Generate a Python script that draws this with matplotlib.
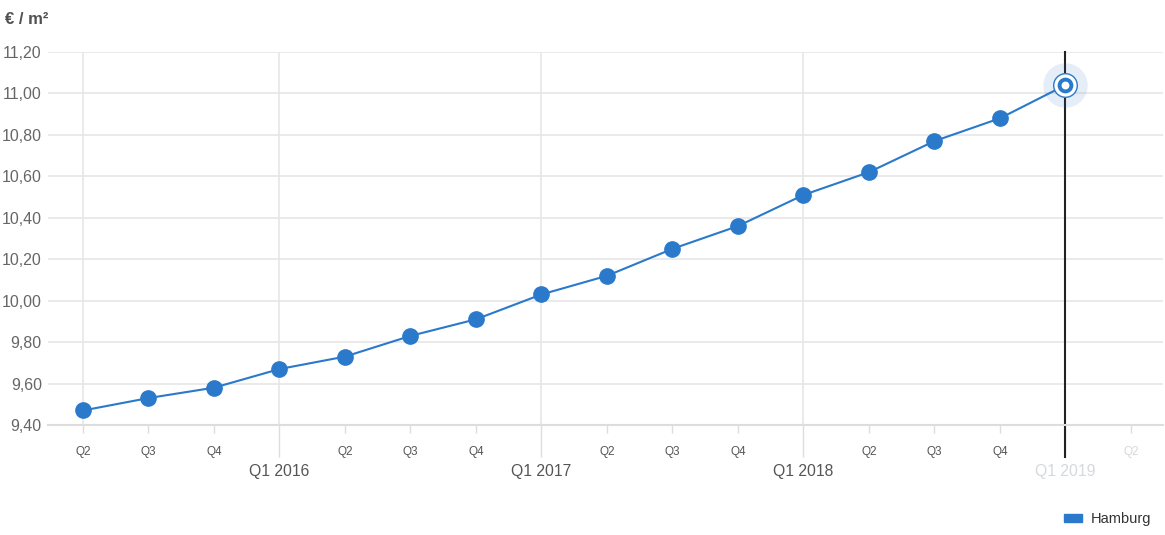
import matplotlib
matplotlib.use("Agg")
import matplotlib.pyplot as plt
from matplotlib.patches import Patch

plt.rcParams['font.family'] = ['Liberation Sans', 'DejaVu Sans']

# Data
quarters = ["Q2 2015", "Q3 2015", "Q4 2015", "Q1 2016", "Q2 2016", "Q3 2016", "Q4 2016",
            "Q1 2017", "Q2 2017", "Q3 2017", "Q4 2017", "Q1 2018", "Q2 2018", "Q3 2018",
            "Q4 2018", "Q1 2019"]
values = [9.47, 9.53, 9.58, 9.67, 9.73, 9.83, 9.91, 10.03, 10.12, 10.25, 10.36,
          10.51, 10.62, 10.77, 10.88, 11.04]
minor_labels = ["Q2", "Q3", "Q4", "Q2", "Q3", "Q4", "Q2", "Q3", "Q4", "Q2", "Q3", "Q4", "Q2"]
minor_pos = [0, 1, 2, 4, 5, 6, 8, 9, 10, 12, 13, 14, 16]
major_labels = ["Q1 2016", "Q1 2017", "Q1 2018", "Q1 2019"]
major_pos = [3, 7, 11, 15]
yticks = [9.4, 9.6, 9.8, 10.0, 10.2, 10.4, 10.6, 10.8, 11.0, 11.2]
series_name = "Hamburg"

blue = "#2a79cb"
grid_c = "#e6e6e6"

fig = plt.figure(figsize=(11.65, 5.35), dpi=100)
ax = fig.add_axes([48/1165, 1-425/535, (1163-48)/1165, (425-52)/535])

x = list(range(len(values)))
ax.plot(x, values, color=blue, lw=1.5, zorder=3)
ax.plot(x[:-1], values[:-1], 'o', color=blue, ms=11, zorder=4)
# highlighted last point
ax.plot(x[-1], values[-1], 'o', ms=32, color="#2a79cb", alpha=0.12, mec="none", zorder=5)
ax.plot(x[-1], values[-1], 'o', ms=17, mfc="white", mec=blue, mew=1.0, zorder=6)
ax.plot(x[-1], values[-1], 'o', ms=8.5, mfc="white", mec=blue, mew=2.8, zorder=7)

ax.set_xlim(-0.534, 16.49)
ax.set_ylim(9.4, 11.2)

# y axis
ax.set_yticks(yticks)
ax.set_yticklabels([f"{v:.2f}".replace(".", ",") for v in yticks])
ax.tick_params(axis="y", length=0, pad=4.5, labelsize=11.5, labelcolor="#666666")
for v in yticks:
    ax.axhline(v, color=grid_c, lw=1.2, zorder=0)

# x axis
ax.set_xticks(major_pos)
ax.set_xticklabels(major_labels)
ax.set_xticks(minor_pos, minor=True)
ax.set_xticklabels(minor_labels, minor=True)
ax.tick_params(axis="x", which="major", length=23, width=1, color="#dddddd",
               pad=5, labelsize=11.3, labelcolor="#555555")
ax.tick_params(axis="x", which="minor", length=6, width=1, color="#dddddd",
               pad=9, labelsize=8.5, labelcolor="#555555")
ax.get_xticklabels()[-1].set_color("#d5d8dc")
ax.get_xticklabels(minor=True)[-1].set_color("#d5d8dc")

for p in [0] + major_pos[:-1]:
    ax.axvline(p, color=grid_c, lw=1.2, zorder=0)

# crosshair
ax.plot([15, 15], [9.4 - 32/207.2, 11.2], color="#222222", lw=1.5, zorder=2, clip_on=False)

for s in ["top", "right", "left"]:
    ax.spines[s].set_visible(False)
ax.spines["bottom"].set_color("#dddddd")
ax.spines["bottom"].set_linewidth(1.5)

fig.text(5/1165, 1-20/535, "€ / m²", fontsize=12, color="#333333", va="center", ha="left",
         fontweight="bold", alpha=0.85)

leg = fig.legend(handles=[Patch(color=blue, label=series_name)], loc="center right",
                 bbox_to_anchor=(1151/1165, 1-519/535), frameon=False, fontsize=10.5,
                 handlelength=1.25, handleheight=0.45, handletextpad=0.6, labelcolor="#333333",
                 borderpad=0, borderaxespad=0)

fig.savefig("out.png", dpi=100)
